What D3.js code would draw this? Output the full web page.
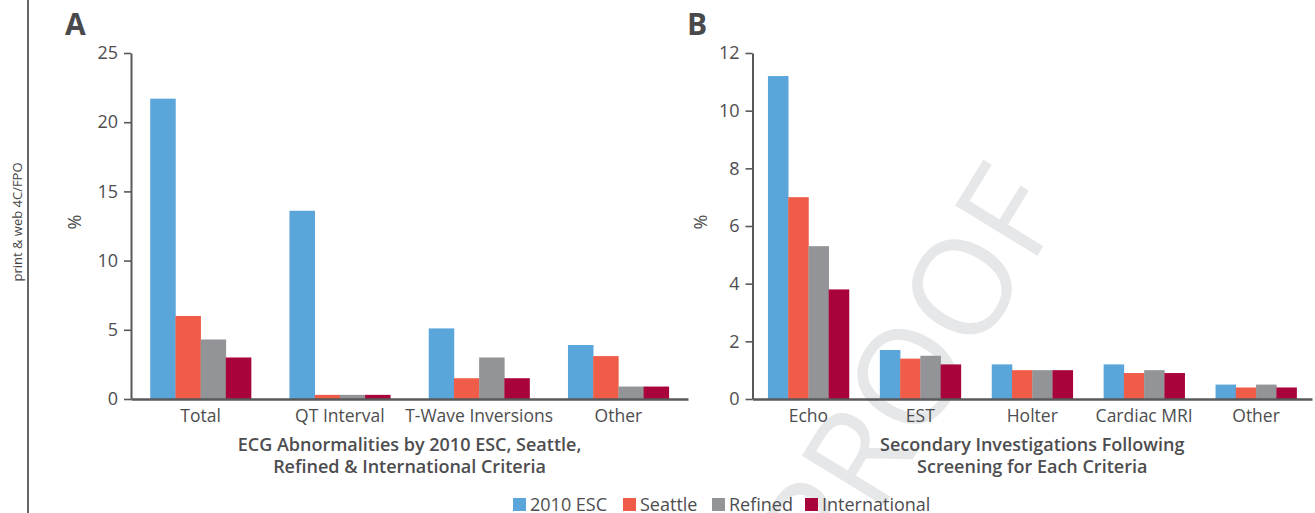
<!DOCTYPE html>
<html>
<head>
<meta charset="utf-8">
<script src="https://cdn.jsdelivr.net/npm/d3@7"></script>
<style>
  html, body { margin: 0; padding: 0; background: #fff; }
  svg { display: block; font-family: "Open Sans", "DejaVu Sans", sans-serif; }
</style>
</head>
<body>
<svg id="chart" width="1315" height="513"></svg>
<script>
// Criteria (series) shown in both panels
const seriesNames = ["2010 ESC", "Seattle", "Refined", "International"];
const seriesColors = ["#5aa5da", "#ef5d48", "#929497", "#a8033a"];

// Panel A: ECG abnormalities (%)
const ecgCategories = ["Total", "QT Interval", "T-Wave Inversions", "Other"];
const ecgEsc2010      = [21.7, 13.6, 5.1, 3.9];
const ecgSeattle      = [6.0, 0.3, 1.5, 3.1];
const ecgRefined      = [4.3, 0.3, 3.0, 0.9];
const ecgInternational = [3.0, 0.3, 1.5, 0.9];
const ecgTicks = [0, 5, 10, 15, 20, 25];

// Panel B: secondary investigations (%)
const invCategories = ["Echo", "EST", "Holter", "Cardiac MRI", "Other"];
const invEsc2010      = [11.2, 1.7, 1.2, 1.2, 0.5];
const invSeattle      = [7.0, 1.4, 1.0, 0.9, 0.4];
const invRefined      = [5.3, 1.5, 1.0, 1.0, 0.5];
const invInternational = [3.8, 1.2, 1.0, 0.9, 0.4];
const invTicks = [0, 2, 4, 6, 8, 10, 12];

const textColor = "#4d4d4f";
const axisColor = "#58595b";

const svg = d3.select("#chart");

// Watermark sits underneath everything else
svg.append("text")
  .attr("transform", "translate(910,372) rotate(-58.5)")
  .attr("text-anchor", "middle")
  .attr("y", 48)
  .attr("font-size", 135)
  .attr("fill", "#e6e7e8")
  .text("PROOF");

// Margin note and rule
svg.append("line")
  .attr("x1", 28).attr("x2", 28).attr("y1", 0).attr("y2", 513)
  .attr("stroke", "#333").attr("stroke-width", 1.5);
svg.append("text")
  .attr("transform", "translate(21.5,222) rotate(-90)")
  .attr("text-anchor", "middle")
  .attr("font-size", 13)
  .attr("fill", "#444")
  .text("print & web 4C/FPO");

function panel(opts) {
  const { categories, values, ticks, yMax, x0, x1, letter, letterX, titleLines, pctX } = opts;
  const yTop = 53, yBottom = 399;
  const g = svg.append("g");

  const x = d3.scaleBand().domain(categories).range([x0, x1]).padding(0);
  const bw = x.bandwidth();
  const xs = d3.scaleBand().domain(seriesNames).range([bw * 0.138, bw * 0.862]).padding(0);
  const y = d3.scaleLinear().domain([0, yMax]).range([yBottom, yTop]);

  // bars
  seriesNames.forEach((s, si) => {
    g.append("g")
      .attr("fill", seriesColors[si])
      .selectAll("rect")
      .data(categories.map((c, ci) => ({ c, v: values[si][ci] })))
      .join("rect")
      .attr("x", d => x(d.c) + xs(s))
      .attr("width", xs.bandwidth() + 0.3)
      .attr("y", d => y(d.v))
      .attr("height", d => y(0) - y(d.v));
  });

  // y axis
  const ya = g.append("g")
    .attr("transform", `translate(${x0},0)`)
    .call(d3.axisLeft(y).tickValues(ticks).tickSize(7).tickPadding(6).tickSizeOuter(0));
  ya.select(".domain").attr("stroke", axisColor).attr("stroke-width", 2);
  ya.selectAll(".tick line").attr("stroke", axisColor).attr("stroke-width", 1.6);
  ya.selectAll(".tick text")
    .attr("fill", textColor).attr("font-size", 18).attr("font-family", "Open Sans");

  // x axis
  const xa = g.append("g")
    .attr("transform", `translate(0,${yBottom})`)
    .call(d3.axisBottom(x).tickSize(0).tickPadding(11));
  xa.select(".domain").attr("stroke", axisColor).attr("stroke-width", 2.4);
  xa.selectAll(".tick text")
    .attr("fill", textColor).attr("font-size", 17.5).attr("font-family", "Open Sans");

  // axis title
  const cx = (x0 + x1) / 2;
  titleLines.forEach((t, i) => {
    g.append("text")
      .attr("x", cx).attr("y", 451 + i * 22)
      .attr("text-anchor", "middle")
      .attr("font-size", 18)
      .attr("font-weight", 600)
      .attr("fill", textColor)
      .text(t);
  });

  // y label
  g.append("text")
    .attr("transform", `translate(${pctX},222) rotate(-90)`)
    .attr("text-anchor", "middle")
    .attr("dy", "0.35em")
    .attr("font-size", 18)
    .attr("fill", textColor)
    .text("%");

  // panel letter
  g.append("text")
    .attr("x", letterX).attr("y", 35)
    .attr("font-size", 30)
    .attr("font-weight", 700)
    .attr("fill", "#4a4a4c")
    .text(letter);
}

panel({
  categories: ecgCategories,
  values: [ecgEsc2010, ecgSeattle, ecgRefined, ecgInternational],
  ticks: ecgTicks, yMax: 25,
  x0: 131, x1: 688,
  letter: "A", letterX: 65,
  titleLines: ["ECG Abnormalities by 2010 ESC, Seattle,", "Refined & International Criteria"],
  pctX: 75
});

panel({
  categories: invCategories,
  values: [invEsc2010, invSeattle, invRefined, invInternational],
  ticks: invTicks, yMax: 12,
  x0: 752.5, x1: 1312,
  letter: "B", letterX: 687,
  titleLines: ["Secondary Investigations Following", "Screening for Each Criteria"],
  pctX: 701
});

// Legend
const legendItems = [
  { name: seriesNames[0], color: seriesColors[0], x: 513 },
  { name: seriesNames[1], color: seriesColors[1], x: 623 },
  { name: seriesNames[2], color: seriesColors[2], x: 712 },
  { name: seriesNames[3], color: seriesColors[3], x: 805 }
];
const lg = svg.append("g").selectAll("g").data(legendItems).join("g")
  .attr("transform", d => `translate(${d.x},0)`);
lg.append("rect").attr("x", 0).attr("y", 498).attr("width", 13).attr("height", 13)
  .attr("fill", d => d.color);
lg.append("text").attr("x", 17).attr("y", 511)
  .attr("font-size", 18).attr("fill", textColor)
  .text(d => d.name);
</script>
</body>
</html>
